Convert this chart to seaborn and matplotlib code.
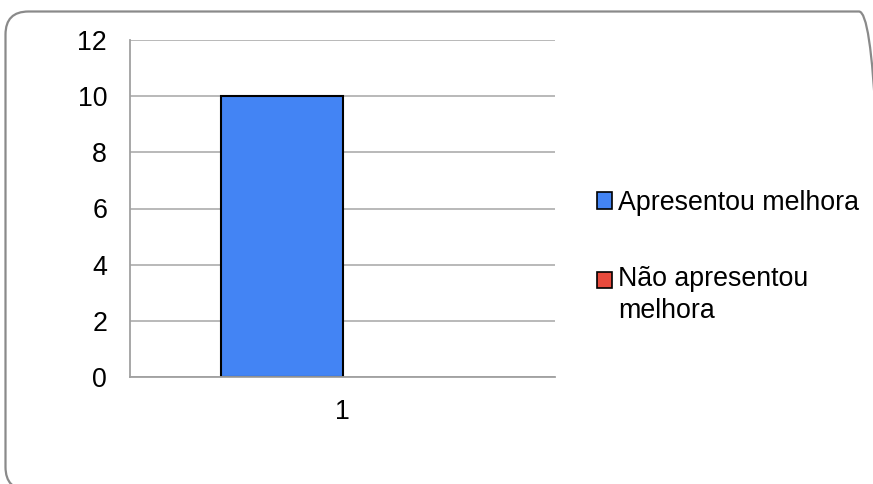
import pandas as pd
import seaborn as sns
import matplotlib.pyplot as plt
from matplotlib.patches import FancyBboxPatch, Patch
from matplotlib.transforms import IdentityTransform

# data
categories = ['1']
series = ['Apresentou melhora', 'Não apresentou melhora']
values = [10, 0]
colors = ['#4384f4', '#e84a3c']

df = pd.DataFrame({
    'cat': categories * len(series),
    'serie': series,
    'valor': values,
})

sns.set_style('white')
plt.rcParams['font.family'] = ['Liberation Sans', 'DejaVu Sans']
plt.rcParams['text.color'] = 'black'

fig = plt.figure(figsize=(8.73, 4.84), dpi=100)
W, H = 873, 484
fs = 19.3

# rounded frame in pixels, running off the right and bottom edges
frame = FancyBboxPatch((5.5, -6), 882 - 5.5, 484 - 11.5 + 6,
                       boxstyle='round,pad=0,rounding_size=23',
                       transform=IdentityTransform(), facecolor='none',
                       edgecolor='#8a8a8a', linewidth=1.6,
                       clip_on=False, zorder=5)
fig.patches.append(frame)

ax = fig.add_axes([130 / W, 1 - 377 / H, (555 - 130) / W, (377 - 40) / H])
ax.set_facecolor('none')

sns.barplot(data=df, x='cat', y='valor', hue='serie', hue_order=series,
            palette=colors, width=2 / 3.5, edgecolor='black', linewidth=1.5,
            saturation=1, legend=False, ax=ax)

for p in ax.patches:
    if p.get_height() == 0:
        p.set_edgecolor('none')
        p.set_linewidth(0)

ax.set_xlim(-0.5, 0.5)
ax.set_ylim(0, 12)
ax.set_yticks(range(0, 13, 2))
ax.yaxis.grid(True, color='#a6a6a6', linewidth=1.1)
ax.set_axisbelow(True)
for s in ['top', 'right']:
    ax.spines[s].set_visible(False)
for s in ['left', 'bottom']:
    ax.spines[s].set_color('#a0a0a0')
    ax.spines[s].set_linewidth(1.3)
ax.tick_params(axis='both', length=0, labelsize=fs, colors='black')
ax.tick_params(axis='y', pad=16.5)
ax.tick_params(axis='x', pad=16)
ax.set_xlabel('')
ax.set_ylabel('')

handles = [Patch(facecolor=c, edgecolor='black', linewidth=1.2) for c in colors]
labels = ['Apresentou melhora', 'Não apresentou\nmelhora']
leg = fig.legend(handles, labels, loc='upper left', bbox_to_anchor=(597 / W, 1 - 190 / H),
                 frameon=False, fontsize=fs, handlelength=0.55, handleheight=0.55,
                 handletextpad=0.25, labelspacing=1.85, borderpad=0, borderaxespad=0)
for t in leg.get_texts():
    t.set_linespacing(1.3)
# put the red square next to the first line of its label
h = leg.legend_handles[1]
h.set_y(h.get_y() + 11)

fig.savefig('out.png', dpi=100)
